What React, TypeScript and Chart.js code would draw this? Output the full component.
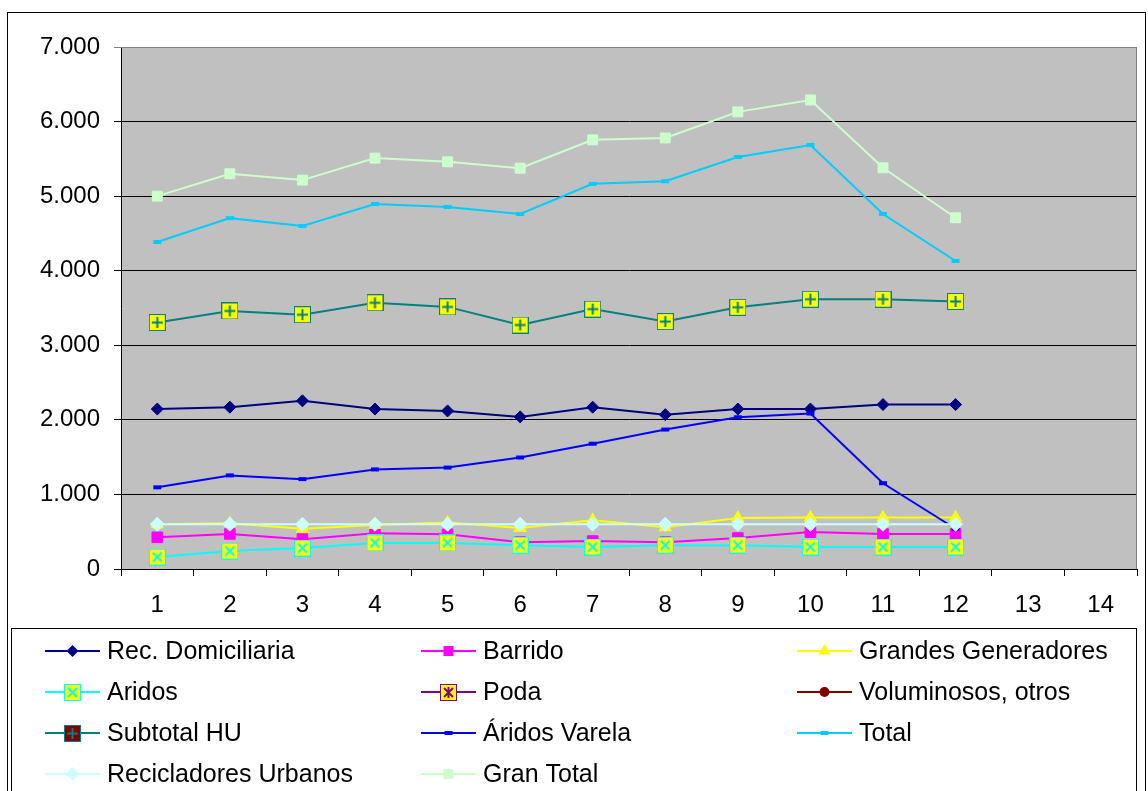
import React, { useEffect, useRef } from 'react';
import { Chart, registerables } from 'chart.js';

Chart.register(...registerables);

const categories = ['1', '2', '3', '4', '5', '6', '7', '8', '9', '10', '11', '12', '13', '14'];

const recDomiciliaria = [2145, 2170, 2255, 2145, 2120, 2040, 2170, 2070, 2145, 2145, 2205, 2205];
const barrido = [425, 470, 400, 480, 465, 360, 375, 360, 415, 495, 470, 470];
const grandesGeneradores = [600, 615, 540, 590, 625, 550, 655, 560, 685, 690, 690, 690];
const aridos = [160, 240, 280, 350, 350, 320, 295, 320, 320, 295, 295, 295];
const poda: number[] = [];
const voluminosos: number[] = [];
const subtotalHU = [3305, 3460, 3410, 3570, 3515, 3272, 3485, 3318, 3510, 3618, 3618, 3588];
const aridosVarela = [1095, 1255, 1205, 1335, 1360, 1495, 1680, 1870, 2035, 2085, 1150, 540];
const total = [4385, 4705, 4600, 4895, 4855, 4760, 5165, 5200, 5525, 5685, 4760, 4130];
const recicladores = [600, 600, 600, 600, 600, 600, 600, 600, 600, 600, 600, 600];
const granTotal = [5000, 5300, 5215, 5510, 5460, 5375, 5755, 5780, 6130, 6290, 5380, 4710];

const yMin = 0;
const yMax = 7000;
const yStep = 1000;

const FONT = 'Arial, "Liberation Sans", sans-serif';

function fmt(v: number) {
  if (v === 0) return '0';
  const th = Math.floor(v / 1000);
  const rest = v % 1000;
  return th > 0 ? `${th}.${String(rest).padStart(3, '0')}` : String(rest);
}

function makeBox(fill: string, stroke: string, glyph: 'x' | '+' | '*', size = 17) {
  const c = document.createElement('canvas');
  c.width = size;
  c.height = size;
  const g = c.getContext('2d')!;
  g.fillStyle = fill;
  g.fillRect(0, 0, size, size);
  g.strokeStyle = stroke;
  g.lineWidth = 1;
  g.strokeRect(0.5, 0.5, size - 1, size - 1);
  g.lineWidth = 2;
  g.beginPath();
  const a = 4, b = size - 4, m = size / 2;
  if (glyph === 'x' || glyph === '*') {
    g.moveTo(a, a); g.lineTo(b, b);
    g.moveTo(b, a); g.lineTo(a, b);
  }
  if (glyph === '*') {
    g.moveTo(m, 3); g.lineTo(m, size - 3);
  }
  if (glyph === '+') {
    g.moveTo(m, 3); g.lineTo(m, size - 3);
    g.moveTo(3, m); g.lineTo(size - 3, m);
  }
  g.stroke();
  return c;
}

type MarkerKind = 'diamond' | 'square' | 'triangle' | 'circle' | 'dash' | 'image';

export default function App() {
  const ref = useRef<HTMLCanvasElement>(null);

  useEffect(() => {
    const canvas = ref.current!;
    const aridosImg = makeBox('#FFFF00', '#00FFFF', 'x');
    const podaImg = makeBox('#FFFF00', '#800080', '*');
    const subtotalImg = makeBox('#FFFF00', '#008080', '+');
    const subtotalLegendImg = makeBox('#800000', '#008080', '+');

    const legendItems: { label: string; color: string; kind: MarkerKind; fill?: string; r?: number; img?: HTMLCanvasElement }[] = [
      { label: 'Rec. Domiciliaria', color: '#000080', kind: 'diamond', r: 6 },
      { label: 'Barrido', color: '#FF00FF', kind: 'square', r: 5 },
      { label: 'Grandes Generadores', color: '#FFFF00', kind: 'triangle', r: 7 },
      { label: 'Aridos', color: '#00FFFF', kind: 'image', img: aridosImg },
      { label: 'Poda', color: '#800080', kind: 'image', img: podaImg },
      { label: 'Voluminosos, otros', color: '#800000', kind: 'circle', r: 5 },
      { label: 'Subtotal HU', color: '#008080', kind: 'image', img: subtotalLegendImg },
      { label: 'Áridos Varela', color: '#0000FF', kind: 'dash' },
      { label: 'Total', color: '#00CCFF', kind: 'dash' },
      { label: 'Recicladores Urbanos', color: '#CCFFFF', kind: 'diamond', r: 7 },
      { label: 'Gran Total', color: '#CCFFCC', kind: 'square', r: 5 },
    ];

    const mk = (label: string, data: number[], color: string, idx: number, extra: any) => ({
      label,
      data,
      borderColor: color,
      backgroundColor: color,
      borderWidth: 2,
      pointBackgroundColor: color,
      pointBorderColor: color,
      pointBorderWidth: 1,
      order: -idx,
      tension: 0,
      ...extra,
    });

    const framePlugin = {
      id: 'frame',
      beforeDraw(chart: any) {
        const ctx = chart.ctx as CanvasRenderingContext2D;
        const a = chart.chartArea;
        ctx.save();
        ctx.fillStyle = '#FFFFFF';
        ctx.fillRect(0, 0, chart.width, chart.height);
        ctx.strokeStyle = '#000000';
        ctx.lineWidth = 1;
        ctx.strokeRect(7.5, 12.5, 1138, 800);
        ctx.fillStyle = '#C0C0C0';
        ctx.fillRect(a.left, a.top, a.right - a.left, a.bottom - a.top);
        ctx.restore();
      },
      beforeDatasetsDraw(chart: any) {
        const ctx = chart.ctx as CanvasRenderingContext2D;
        const a = chart.chartArea;
        ctx.save();
        ctx.strokeStyle = '#808080';
        ctx.lineWidth = 1;
        ctx.beginPath();
        ctx.moveTo(a.left, Math.round(a.top) + 0.5);
        ctx.lineTo(Math.round(a.right) - 0.5, Math.round(a.top) + 0.5);
        ctx.lineTo(Math.round(a.right) - 0.5, a.bottom);
        ctx.stroke();
        ctx.restore();
      },
      afterDraw(chart: any) {
        const ctx = chart.ctx as CanvasRenderingContext2D;
        ctx.save();
        ctx.strokeStyle = '#000000';
        ctx.lineWidth = 1;
        ctx.strokeRect(11.5, 628.5, 1125, 200);
        const cols = [45, 421, 797];
        const rows = [651, 692, 733, 774];
        ctx.font = `25px ${FONT}`;
        ctx.textBaseline = 'middle';
        ctx.textAlign = 'left';
        legendItems.forEach((it, i) => {
          const x0 = cols[i % 3];
          const y = rows[Math.floor(i / 3)];
          ctx.strokeStyle = it.color;
          ctx.lineWidth = 2;
          ctx.beginPath();
          ctx.moveTo(x0, y);
          ctx.lineTo(x0 + 55, y);
          ctx.stroke();
          const cx = x0 + 27.5;
          ctx.fillStyle = it.color;
          const r = it.r ?? 5;
          ctx.beginPath();
          if (it.kind === 'diamond') {
            ctx.moveTo(cx, y - r); ctx.lineTo(cx + r, y); ctx.lineTo(cx, y + r); ctx.lineTo(cx - r, y); ctx.closePath(); ctx.fill();
          } else if (it.kind === 'square') {
            ctx.fillRect(cx - r, y - r, 2 * r, 2 * r);
          } else if (it.kind === 'triangle') {
            ctx.moveTo(cx, y - r); ctx.lineTo(cx + r * 0.866, y + r * 0.5); ctx.lineTo(cx - r * 0.866, y + r * 0.5); ctx.closePath(); ctx.fill();
          } else if (it.kind === 'circle') {
            ctx.arc(cx, y, r, 0, Math.PI * 2); ctx.fill();
          } else if (it.kind === 'dash') {
            ctx.fillRect(cx - 4, y - 2, 8, 4);
          } else if (it.kind === 'image' && it.img) {
            ctx.drawImage(it.img, Math.round(cx - it.img.width / 2), Math.round(y - it.img.height / 2));
          }
          ctx.fillStyle = '#000000';
          ctx.fillText(it.label, x0 + 62, y + 1);
        });
        ctx.restore();
      },
    };

    const chart = new Chart(canvas, {
      type: 'line',
      data: {
        labels: categories,
        datasets: [
          mk('Rec. Domiciliaria', recDomiciliaria, '#000080', 0, { pointStyle: 'rectRot', pointRadius: 6 }),
          mk('Barrido', barrido, '#FF00FF', 1, { pointStyle: 'rect', pointRadius: 7.5 }),
          mk('Grandes Generadores', grandesGeneradores, '#FFFF00', 2, { pointStyle: 'triangle', pointRadius: 7 }),
          mk('Aridos', aridos, '#00FFFF', 3, { pointStyle: aridosImg, pointRadius: 8 }),
          mk('Poda', poda, '#800080', 4, { pointStyle: podaImg, pointRadius: 8 }),
          mk('Voluminosos, otros', voluminosos, '#800000', 5, { pointStyle: 'circle', pointRadius: 5 }),
          mk('Subtotal HU', subtotalHU, '#008080', 6, { pointStyle: subtotalImg, pointRadius: 8 }),
          mk('Áridos Varela', aridosVarela, '#0000FF', 7, { pointStyle: 'line', pointRadius: 4, pointBorderWidth: 4 }),
          mk('Total', total, '#00CCFF', 8, { pointStyle: 'line', pointRadius: 4, pointBorderWidth: 4 }),
          mk('Recicladores Urbanos', recicladores, '#CCFFFF', 9, { pointStyle: 'rectRot', pointRadius: 7 }),
          mk('Gran Total', granTotal, '#CCFFCC', 10, { pointStyle: 'rect', pointRadius: 7 }),
        ],
      },
      options: {
        animation: false,
        responsive: false,
        devicePixelRatio: 1,
        layout: { padding: { left: 0, right: 11, top: 47, bottom: 172 } },
        plugins: {
          legend: { display: false },
          tooltip: { enabled: false },
          title: { display: false },
        },
        scales: {
          x: {
            type: 'category',
            offset: true,
            grid: {
              offset: true,
              drawOnChartArea: false,
              drawTicks: true,
              tickLength: 7,
              color: '#000000',
              lineWidth: 1,
            },
            border: { display: true, color: '#000000', width: 1 },
            ticks: {
              color: '#000000',
              font: { family: FONT, size: 24 },
              padding: 15,
              maxRotation: 0,
              autoSkip: false,
            },
            afterFit(scale: any) {
              scale.height = 50;
            },
          },
          y: {
            min: yMin,
            max: yMax,
            grid: {
              color: (c: any) => (c.tick && c.tick.value === yMax ? '#808080' : '#000000'),
              lineWidth: 1,
              drawTicks: true,
              tickLength: 7,
            },
            border: { display: true, color: '#000000', width: 1 },
            ticks: {
              stepSize: yStep,
              color: '#000000',
              font: { family: FONT, size: 24 },
              padding: 14,
              callback: (v: any) => fmt(Number(v)),
            },
            afterFit(scale: any) {
              scale.width = 121;
            },
          },
        },
      },
      plugins: [framePlugin],
    } as any);

    return () => chart.destroy();
  }, []);

  return (
    <div style={{ position: 'absolute', left: 0, top: 0, width: 1148, height: 791, background: '#fff', overflow: 'hidden' }}>
      <canvas ref={ref} width={1148} height={791} style={{ display: 'block', width: 1148, height: 791 }} />
    </div>
  );
}
